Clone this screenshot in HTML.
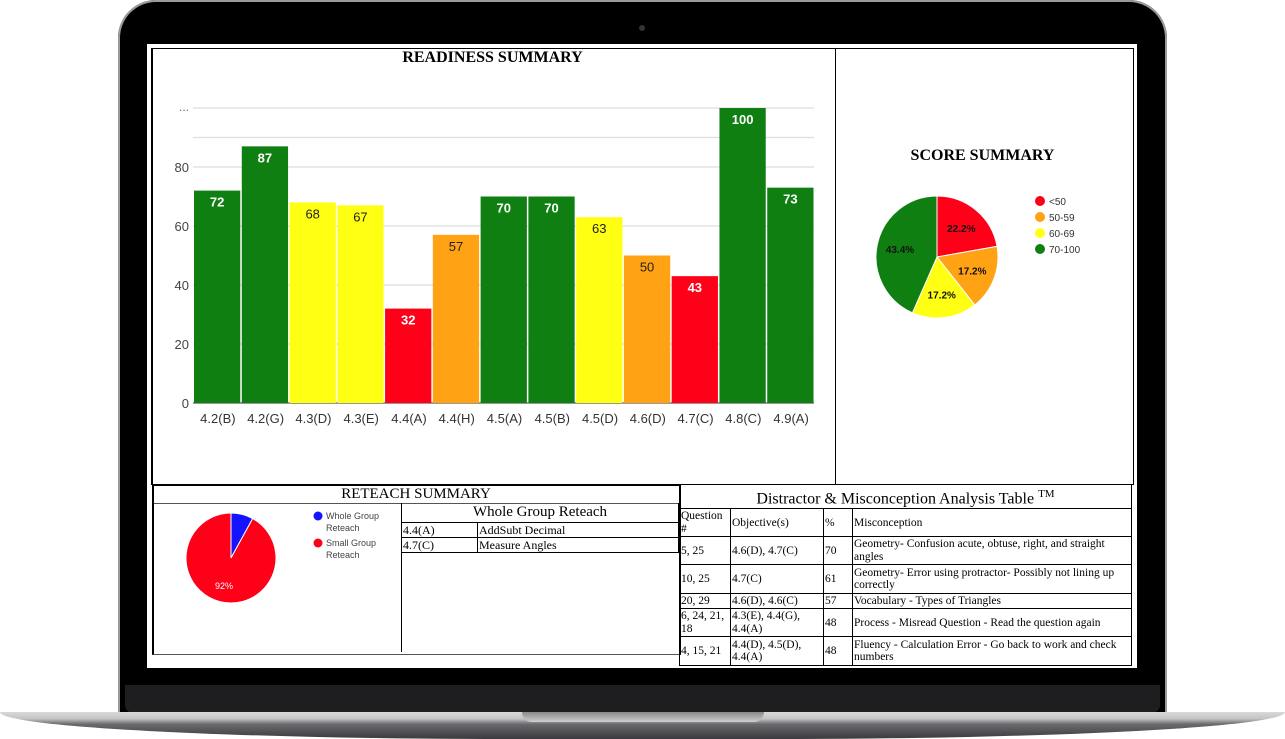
<!DOCTYPE html>
<html><head><meta charset="utf-8">
<style>
body{margin:0;width:1285px;height:739px;background:#fff;position:relative;overflow:hidden;font-family:"Liberation Serif",serif}
.abs{position:absolute}
table{border-collapse:collapse}
td{border:1px solid #000;padding:0 1px;font-size:11.5px;line-height:12.5px;vertical-align:middle;color:#000}
</style></head><body>
<div class="abs" style="left:118px;top:0;width:1049px;height:716px;background:#000;border-radius:38px 38px 0 0;box-shadow:0 0 0 2px #9a9a9a inset"></div>
<div class="abs" style="left:122px;top:4px;width:1041px;height:712px;background:#000;border-radius:34px 34px 0 0"></div>
<div class="abs" style="left:639px;top:25px;width:6px;height:6px;border-radius:50%;background:#333"></div>
<div class="abs" style="left:125px;top:685px;width:1035px;height:28px;background:#1e1e21;border-radius:0 0 8px 8px"></div>
<div class="abs" style="left:0;top:712px;width:1285px;height:27px;background:linear-gradient(#d8d8d8 0,#c4c4c4 25%,#6a6a6e 45%,#3a3a3e 100%);border-radius:0 0 40% 40%/0 0 100% 100%"></div>
<div class="abs" style="left:522px;top:712px;width:242px;height:10px;background:linear-gradient(#8a8a8a,#d0d0d0);border-radius:0 0 12px 12px"></div>

<div class="abs" style="left:147px;top:44px;width:990px;height:624px;background:#fff"></div>
<div class="abs" style="left:151px;top:48px;width:980px;height:435px;border:1px solid #000;border-left:2px solid #000"></div>
<div class="abs" style="left:835px;top:48px;width:1px;height:436px;background:#000"></div>

<div class="abs" style="left:300px;top:49px;width:385px;text-align:center;font-weight:bold;font-size:16px">READINESS SUMMARY</div>
<svg class="abs" style="left:0;top:0" width="1285" height="739" id="chart"></svg>

<div class="abs" style="left:880px;top:147px;width:205px;text-align:center;font-weight:bold;font-size:16px">SCORE SUMMARY</div>

<div class="abs" style="left:152px;top:484px;width:525px;height:168px;border:2px solid #000;border-bottom:1px solid #555"></div>
<div class="abs" style="left:154px;top:485px;width:524px;height:18px;border-bottom:1px solid #555;text-align:center;font-size:15px;line-height:18px">RETEACH SUMMARY</div>
<div class="abs" style="left:401px;top:503px;width:277px;height:149px;border-left:1px solid #000">
<table style="width:277px">
<tr><td colspan="2" style="text-align:center;font-size:15px;line-height:19px;border-top:none;border-left:none">Whole Group Reteach</td></tr>
<tr><td style="width:73px;border-left:none;font-size:12px;line-height:14px">4.4(A)</td><td style="font-size:12px;line-height:14px">AddSubt Decimal</td></tr>
<tr><td style="border-left:none;font-size:12px;line-height:14px">4.7(C)</td><td style="font-size:12px;line-height:14px">Measure Angles</td></tr>
</table></div>

<div class="abs" style="left:679px;top:484px;width:453px">
<table style="width:453px">
<tr style="height:23px"><td colspan="4" style="text-align:center;font-size:16px;line-height:19px">Distractor &amp; Misconception Analysis Table <sup style="font-size:11px">TM</sup></td></tr>
<tr style="height:28px"><td style="width:48px">Question #</td><td style="width:90px">Objective(s)</td><td style="width:26px">%</td><td>Misconception</td></tr>
<tr style="height:28px"><td>5, 25</td><td>4.6(D), 4.7(C)</td><td>70</td><td>Geometry- Confusion acute, obtuse, right, and straight angles</td></tr>
<tr style="height:29px"><td>10, 25</td><td>4.7(C)</td><td>61</td><td>Geometry- Error using protractor- Possibly not lining up correctly</td></tr>
<tr style="height:15px"><td>20, 29</td><td>4.6(D), 4.6(C)</td><td>57</td><td>Vocabulary - Types of Triangles</td></tr>
<tr style="height:28px"><td>6, 24, 21, 18</td><td>4.3(E), 4.4(G), 4.4(A)</td><td>48</td><td>Process - Misread Question - Read the question again</td></tr>
<tr style="height:29px"><td>4, 15, 21</td><td>4.4(D), 4.5(D), 4.4(A)</td><td>48</td><td>Fluency - Calculation Error - Go back to work and check numbers</td></tr>
</table></div>

<script>
const categories=["4.2(B)","4.2(G)","4.3(D)","4.3(E)","4.4(A)","4.4(H)","4.5(A)","4.5(B)","4.5(D)","4.6(D)","4.7(C)","4.8(C)","4.9(A)"];
const values=[72,87,68,67,32,57,70,70,63,50,43,100,73];
const yTicks=[0,20,40,60,80];
const gridVals=[0,20,40,60,80,90,100];
const scoreLabels=["<50","50-59","60-69","70-100"];
const scoreValues=[22.2,17.2,17.2,43.4];
const reteachLabels=["Whole Group Reteach","Small Group Reteach"];
const reteachValues=[8,92];

const NS="http://www.w3.org/2000/svg";
const svg=document.getElementById('chart');
function mk(t,a,txt){const e=document.createElementNS(NS,t);for(const k in a)e.setAttribute(k,a[k]);if(txt!==undefined)e.textContent=txt;svg.appendChild(e);return e;}
function color(v){return v<50?"#ff0019":v<60?"#ffa214":v<70?"#ffff14":"#0f7f12";}
const x0=193,x1=814,yB=403,yT=108;
const y=v=>yB-(v/100)*(yB-yT);
const bw=(x1-x0)/categories.length;
gridVals.forEach(v=>{const l=mk('line',{x1:x0,x2:x1,y1:y(v),y2:y(v),stroke:v===0?'#333':'#ddd','stroke-width':v===0?1:1.2});
});
yTicks.forEach(v=>{const t=mk('text',{x:x0-4,y:y(v)+5,'text-anchor':'end','font-family':'Liberation Sans,sans-serif','font-size':13,fill:'#444'},String(v));
});
const dots=mk('text',{x:x0-4,y:y(100)+3,'text-anchor':'end','font-family':'Liberation Sans,sans-serif','font-size':12,fill:'#666'},'...');

categories.forEach((c,i)=>{const v=values[i],bx=x0+i*bw+1;
const r=mk('rect',{x:bx,y:y(v),width:bw-1.5,height:yB-y(v),fill:color(v)});

const dark=(v>=50&&v<70);
const t=mk('text',{x:bx+bw/2-0.75,y:y(v)+16,'text-anchor':'middle','font-family':'Liberation Sans,sans-serif','font-size':13,'font-weight':dark?'normal':'bold',fill:dark?'#222':'#fff'},String(v));

const xl=mk('text',{x:bx+bw/2,y:yB+20,'text-anchor':'middle','font-family':'Liberation Sans,sans-serif','font-size':13,fill:'#333'},c);
});

function pie(cx,cy,r,vals,cols,labels,labCol,fs,name,bold){const tot=vals.reduce((a,b)=>a+b,0);let a=-Math.PI/2;
vals.forEach((v,i)=>{const a2=a+v/tot*2*Math.PI;const p=mk('path',{d:`M${cx},${cy}L${cx+r*Math.cos(a)},${cy+r*Math.sin(a)}A${r},${r} 0 ${a2-a>Math.PI?1:0} 1 ${cx+r*Math.cos(a2)},${cy+r*Math.sin(a2)}Z`,fill:cols[i],stroke:'#fff','stroke-width':1});

if(labels[i]){const m=(a+a2)/2;const t=mk('text',{x:cx+r*0.62*Math.cos(m),y:cy+r*0.62*Math.sin(m)+4,'text-anchor':'middle','font-family':'Liberation Sans,sans-serif','font-size':fs,'font-weight':bold?'bold':'normal',fill:labCol},labels[i]);
}
a=a2;});}
pie(937,257,61,scoreValues,["#ff0019","#ffa214","#ffff14","#0f7f12"],scoreValues.map(v=>v.toFixed(1)+'%'),'#111',10,'score-pie',true);
scoreLabels.forEach((l,i)=>{const c=mk('circle',{cx:1040,cy:201+i*16,r:5,fill:["#ff0019","#ffa214","#ffff14","#0f7f12"][i]});

const t=mk('text',{x:1049,y:205+i*16,'font-family':'Liberation Sans,sans-serif','font-size':10,fill:'#333'},l);
});
pie(231,558,45,reteachValues,["#1414ff","#ff0019"],["","92%"],'#fff',9,'reteach-pie',false);
reteachLabels.forEach((l,i)=>{const c=mk('circle',{cx:318,cy:516+i*27,r:4.5,fill:["#1414ff","#ff0019"][i]});

const w=l.split(' ');
const t=mk('text',{x:326,y:519+i*27,'font-family':'Liberation Sans,sans-serif','font-size':9,fill:'#444'},w[0]+' '+w[1]);

const t2=mk('text',{x:326,y:531+i*27,'font-family':'Liberation Sans,sans-serif','font-size':9,fill:'#444'},w[2]);
});
</script>
</body></html>
